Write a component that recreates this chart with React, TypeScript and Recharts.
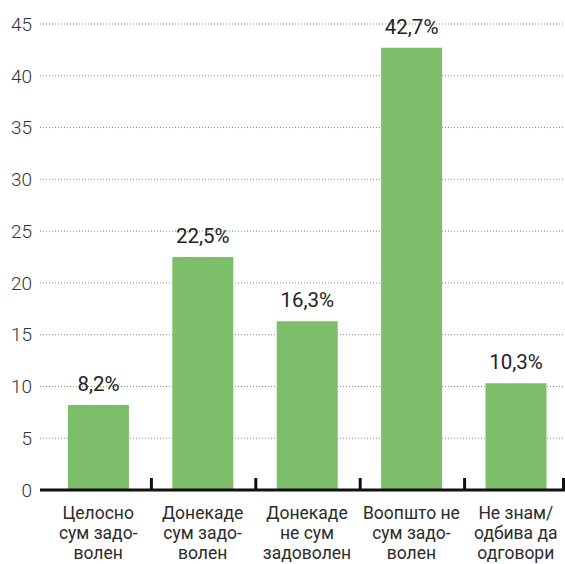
import { BarChart, Bar, XAxis, YAxis, CartesianGrid, LabelList } from "recharts";

const categories = [
  ["Целосно", "сум задо-", "волен"],
  ["Донекаде", "сум задо-", "волен"],
  ["Донекаде", "не сум", "задоволен"],
  ["Воопшто не", "сум задо-", "волен"],
  ["Не знам/", "одбива да", "одговори"],
];
const shares = [8.2, 22.5, 16.3, 42.7, 10.3];
const yTicks = [0, 5, 10, 15, 20, 25, 30, 35, 40, 45];

const data = categories.map((lines, i) => ({
  name: lines.join(" "),
  lines,
  value: shares[i],
}));

const CHART_W = 568;

// label under each bar plus the little upward tick on the right boundary
function CategoryTick(props: any) {
  const { x, y, payload } = props;
  const lines = data[payload.index]?.lines ?? [];
  const half = payload.offset ?? 0;
  const tickX = Math.min(x + half + 1, 563.5);
  return (
    <g>
      <line x1={tickX} x2={tickX} y1={y - 12} y2={y} stroke="#111" strokeWidth={3} />
      <text textAnchor="middle" fill="#2b2b2b" fontSize={17.5} fontFamily="Roboto">
        {lines.map((l: string, i: number) => (
          <tspan key={i} x={x} y={y + 29 + i * 20}>
            {l}
          </tspan>
        ))}
      </text>
    </g>
  );
}

export default function App() {
  return (
    <div style={{ position: "absolute", left: 0, top: 0, width: 565, height: 564, overflow: "hidden", background: "#fff" }}>
      <BarChart
        width={CHART_W}
        height={564}
        data={data}
        margin={{ top: 24, right: 0, bottom: 0, left: 0 }}
        barCategoryGap="21%"
        style={{ fontFamily: "Roboto" }}
      >
        <CartesianGrid vertical={false} stroke="#8a8a8a" strokeDasharray="1 2" />
        <YAxis
          width={40}
          domain={[0, 45]}
          ticks={yTicks}
          axisLine={false}
          tickLine={false}
          tick={{ fill: "#333", fontSize: 19, fontWeight: 300, fontFamily: "Roboto" }}
        />
        <XAxis
          dataKey="name"
          height={74}
          padding={{ left: 6, right: 0 }}
          axisLine={{ stroke: "#111", strokeWidth: 3 }}
          tickLine={false}
          tickSize={0}
          tickMargin={0}
          interval={0}
          tick={<CategoryTick />}
        />
        <Bar dataKey="value" fill="#7cbe69" isAnimationActive={false}>
          <LabelList
            dataKey="value"
            position="top"
            offset={14}
            formatter={(v: any) => `${String(v).replace(".", ",")}%`}
            fill="#222"
            fontSize={20.5}
            fontWeight={400}
            fontFamily="Roboto"
          />
        </Bar>
      </BarChart>
    </div>
  );
}
